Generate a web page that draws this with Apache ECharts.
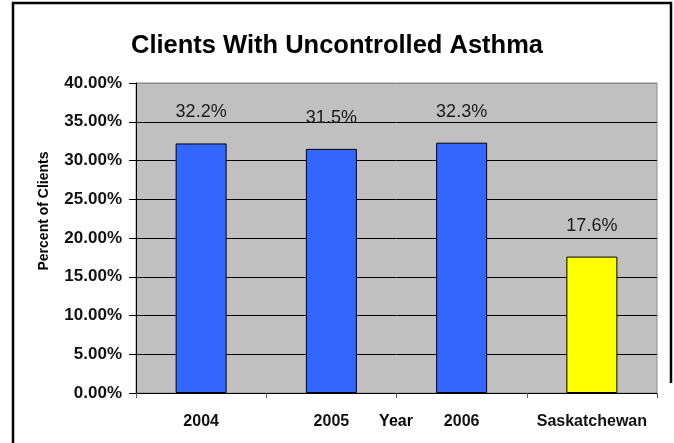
<!DOCTYPE html>
<html>
<head>
<meta charset="utf-8">
<script src="https://cdn.jsdelivr.net/npm/echarts@6/dist/echarts.min.js"></script>
<style>html,body{margin:0;padding:0;background:#fff;}#c{width:674px;height:443px;}</style>
</head>
<body>
<div id="c"></div>
<script>
const categories = ['2004', '2005', '2006', 'Saskatchewan'];
const values = [32.2, 31.5, 32.3, 17.6];
const barColors = ['#3366ff', '#3366ff', '#3366ff', '#ffff00'];
const yMin = 0, yMax = 40, yStep = 5;

const FONT = '"Liberation Sans", Arial, sans-serif';
const chart = echarts.init(document.getElementById('c'), null, {renderer: 'canvas'});
const gridColors = [];
for (let v = yMin; v <= yMax; v += yStep) gridColors.push(v === yMax ? '#8c8c8c' : '#000000');

chart.setOption({
  backgroundColor: '#ffffff',
  animation: false,
  title: {
    text: 'Clients With Uncontrolled Asthma',
    left: 'center',
    top: 28,
    textStyle: {fontFamily: FONT, fontSize: 25.5, fontWeight: 'bold', color: '#000'}
  },
  grid: {
    left: 136, right: 17, top: 83, bottom: 50,
    outerBoundsMode: 'none',
    containLabel: false,
    show: true, backgroundColor: '#c0c0c0', borderColor: '#8c8c8c', borderWidth: 1
  },
  xAxis: {
    type: 'category',
    data: categories,
    axisLine: {lineStyle: {color: '#000', width: 1}},
    axisTick: {show: true, length: 5, lineStyle: {color: '#555'}},
    axisLabel: {interval: 0, fontFamily: FONT, fontSize: 16, fontWeight: 'bold', color: '#111', margin: 21}
  },
  yAxis: {
    type: 'value',
    min: yMin, max: yMax, interval: yStep,
    axisLine: {show: true, lineStyle: {color: '#000', width: 1}},
    axisTick: {show: true, length: 7, lineStyle: {color: '#000'}},
    axisLabel: {
      fontFamily: FONT, fontSize: 17, fontWeight: 'bold', color: '#111', margin: 14,
      formatter: v => v.toFixed(2) + '%'
    },
    splitLine: {show: true, lineStyle: {color: gridColors, width: 1}}
  },
  series: [{
    type: 'bar',
    data: values.map((v, i) => ({value: v, itemStyle: {color: barColors[i]}})),
    barWidth: 51,
    itemStyle: {borderColor: '#000', borderWidth: 1},
    label: {
      show: true, position: 'top', distance: 22,
      fontFamily: FONT, fontSize: 18, color: '#1a1a1a',
      formatter: p => p.value.toFixed(1) + '%'
    }
  }],
  graphic: [{
    type: 'polyline',
    shape: {points: [[13, 443], [13, 3], [671, 3], [671, 383]]},
    style: {stroke: '#000', lineWidth: 2.5, fill: null},
    silent: true
  }, {
    type: 'text',
    x: 44, y: 211,
    rotation: Math.PI / 2,
    style: {
      text: 'Percent of Clients', x: 0, y: 0,
      align: 'center', verticalAlign: 'middle',
      font: 'bold 14px ' + FONT, fill: '#000'
    },
    silent: true
  }, {
    type: 'text',
    x: 396, y: 414,
    style: {
      text: 'Year', x: 0, y: 0,
      align: 'center', verticalAlign: 'top',
      font: 'bold 16px ' + FONT, fill: '#000'
    },
    silent: true
  }]
});
</script>
</body>
</html>
